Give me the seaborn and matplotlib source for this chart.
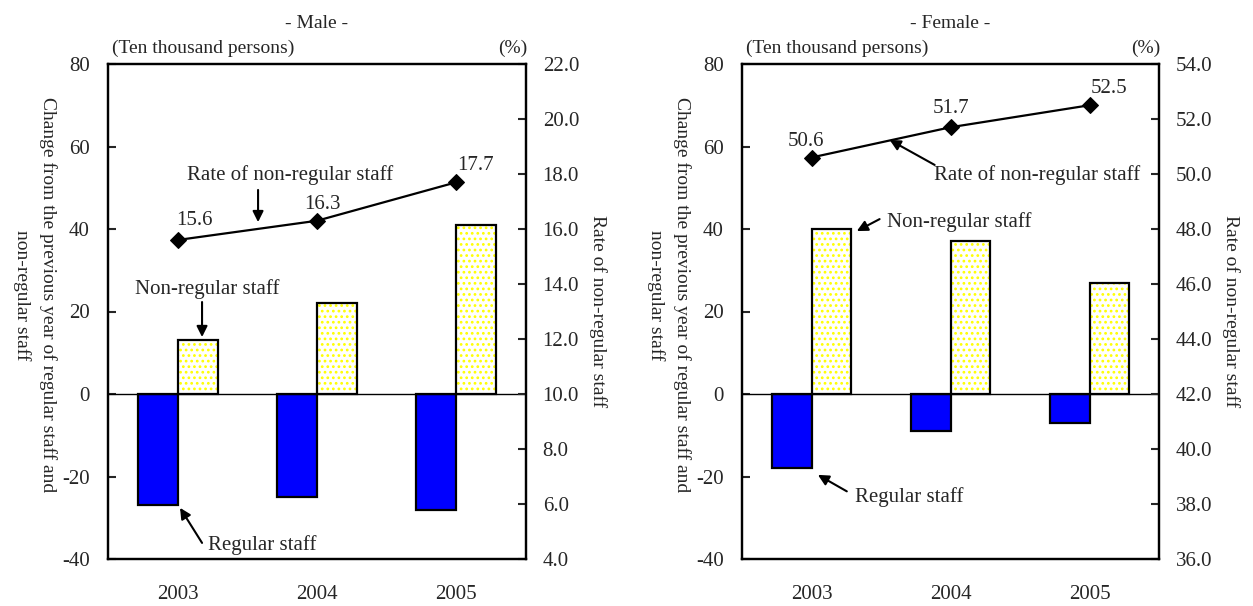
import numpy as np
import pandas as pd
import matplotlib
matplotlib.use("Agg")
import matplotlib.pyplot as plt
import seaborn as sns

# ---- data -------------------------------------------------------------
years = ["2003", "2004", "2005"]
male_regular = [-27, -25, -28]
male_nonregular = [13, 22, 41]
male_rate = [15.6, 16.3, 17.7]
female_regular = [-18, -9, -7]
female_nonregular = [40, 37, 27]
female_rate = [50.6, 51.7, 52.5]

left_ticks = [-40, -20, 0, 20, 40, 60, 80]
male_rate_ticks = [4.0, 6.0, 8.0, 10.0, 12.0, 14.0, 16.0, 18.0, 20.0, 22.0]
female_rate_ticks = [36.0, 38.0, 40.0, 42.0, 44.0, 46.0, 48.0, 50.0, 52.0, 54.0]

REG = "Regular staff"
NON = "Non-regular staff"

sns.set_style("white")
plt.rcParams["font.family"] = ["Liberation Serif", "DejaVu Serif"]
plt.rcParams["hatch.linewidth"] = 1.2

FS = 15
FS_HEAD = 14
W, H = 1253, 606
fig = plt.figure(figsize=(W / 100, H / 100), dpi=100)


def px_axes(x0, y0, x1, y1):
    return fig.add_axes([x0 / W, 1 - y1 / H, (x1 - x0) / W, (y1 - y0) / H])


def draw_panel(ax, regular, nonregular, rate, rate_ticks, title, label_offsets):
    df = pd.DataFrame({
        "year": years * 2,
        "kind": [REG] * len(years) + [NON] * len(years),
        "value": list(regular) + list(nonregular),
    })
    # filled layer with the yellow dot pattern
    sns.barplot(data=df, x="year", y="value", hue="kind", order=years,
                hue_order=[REG, NON], palette={REG: "#0000FF", NON: "white"},
                saturation=1, width=0.575, linewidth=0, legend=False, ax=ax)
    for p in ax.containers[1]:
        p.set_hatch("...")
        p.set_edgecolor("#FFFF00")
        p.set_linewidth(0)
    # black outlines on top
    sns.barplot(data=df, x="year", y="value", hue="kind", order=years,
                hue_order=[REG, NON], palette={REG: "black", NON: "black"},
                saturation=1, width=0.575, fill=False, linewidth=1.6,
                legend=False, ax=ax)
    ax.axhline(0, color="black", lw=1.0, zorder=1)
    ax.set_ylim(-40, 80)
    ax.set_xlim(-0.5, 2.5)
    ax.set_yticks(left_ticks)
    ax.set_yticklabels([str(t) for t in left_ticks])
    ax.set_xlabel("")
    ax.set_ylabel("")
    ax.tick_params(axis="y", direction="in", length=6, width=1.5, labelsize=FS,
                   pad=13, left=True)
    ax.tick_params(axis="x", length=0, labelsize=FS, pad=19)
    for s in ax.spines.values():
        s.set_color("black")
        s.set_linewidth(1.6)

    ax2 = ax.twinx()
    pos = np.arange(len(years))
    sns.lineplot(x=pos, y=rate, ax=ax2, color="black", lw=1.6, marker="D",
                 markersize=8, markeredgecolor="black")
    ax2.set_ylim(rate_ticks[0], rate_ticks[-1])
    ax2.set_xlim(-0.5, 2.5)
    ax2.set_yticks(rate_ticks)
    ax2.set_yticklabels([f"{t:.1f}" for t in rate_ticks])
    ax2.tick_params(axis="y", direction="in", length=6, width=1.5, labelsize=FS,
                    pad=12, right=True)
    ax2.set_ylabel("Rate of non-regular staff", rotation=-90, fontsize=FS_HEAD,
                   labelpad=20)
    for s in ax2.spines.values():
        s.set_color("black")
        s.set_linewidth(1.6)
    for x, v, off in zip(pos, rate, label_offsets):
        ax2.annotate(f"{v:.1f}", (x, v), xytext=off, textcoords="offset points",
                     ha="center", va="bottom", fontsize=FS)

    ax.set_title(title, fontsize=FS_HEAD, pad=26)
    ax.text(0.01, 1.015, "(Ten thousand persons)", transform=ax.transAxes,
            ha="left", va="bottom", fontsize=FS_HEAD)
    ax.text(1.003, 1.015, "(%)", transform=ax.transAxes, ha="right", va="bottom",
            fontsize=FS_HEAD)
    return ax2


arrow = dict(arrowstyle="-|>", color="black", lw=1.5, mutation_scale=16,
             shrinkA=0, shrinkB=0)

# ---- male -------------------------------------------------------------
axm = px_axes(108, 64, 526, 559)
axm2 = draw_panel(axm, male_regular, male_nonregular, male_rate, male_rate_ticks,
                  "- Male -", [(12, 7), (4, 5), (14, 5)])
axm2.annotate("", xy=(0.577, 16.25), xytext=(0.577, 17.42), arrowprops=arrow)
axm2.text(0.81, 17.96, "Rate of non-regular staff", ha="center", va="center",
          fontsize=FS)
axm.annotate("", xy=(0.175, 13.8), xytext=(0.175, 22.3), arrowprops=arrow)
axm.text(0.21, 25.5, NON, ha="center", va="center", fontsize=FS)
axm.annotate("", xy=(0.017, -27.6), xytext=(0.175, -36.1), arrowprops=arrow)
axm.text(0.218, -36.6, REG, ha="left", va="center", fontsize=FS)

# ---- female -----------------------------------------------------------
axf = px_axes(742, 64, 1159, 559)
axf2 = draw_panel(axf, female_regular, female_nonregular, female_rate,
                  female_rate_ticks, "- Female -", [(-4, 5), (0, 7), (14, 5)])
axf2.annotate("", xy=(0.562, 51.24), xytext=(0.886, 50.33), arrowprops=arrow)
axf2.text(1.625, 49.96, "Rate of non-regular staff", ha="center", va="center",
          fontsize=FS)
axf.annotate("", xy=(0.326, 39.5), xytext=(0.49, 42.4), arrowprops=arrow)
axf.text(0.541, 41.7, NON, ha="left", va="center", fontsize=FS)
axf.annotate("", xy=(0.046, -19.6), xytext=(0.254, -23.6), arrowprops=arrow)
axf.text(0.311, -25.0, REG, ha="left", va="center", fontsize=FS)

# left axis titles: two rotated lines each, the second line to the left
for x0 in (108, 742):
    fig.text((x0 - 73) / W, 1 - 295 / H,
             "Change from the previous year of regular staff and\nnon-regular staff",
             rotation=-90, ha="center", va="center", fontsize=FS_HEAD,
             multialignment="center", linespacing=1.6)

fig.savefig("out.png", dpi=100)
